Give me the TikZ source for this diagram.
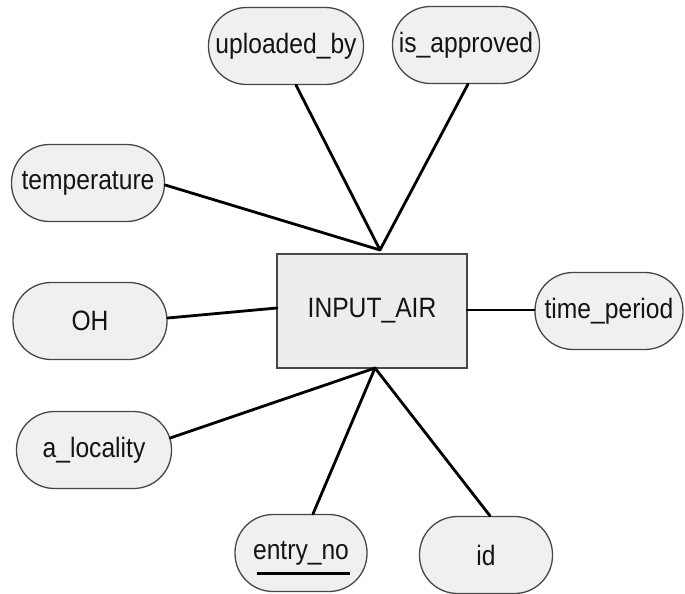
\documentclass[tikz,border=0pt]{standalone}
\usepackage{fontspec}
\setmainfont[FakeStretch=0.88]{Liberation Sans}
\begin{document}
\begin{tikzpicture}[x=1pt,y=-1pt,
  attr/.style={draw=black!72, line width=1.3pt, fill=black!6,
    minimum height=77pt, rounded corners=38pt, inner sep=0pt,
    text=black!92, font=\fontsize{28}{30}\selectfont},
  entity/.style={draw=black!72, line width=1.5pt, fill=black!7,
    inner sep=0pt, text=black!92, font=\fontsize{28}{30}\selectfont},
  link/.style={line width=2.8pt, black, line cap=round}]
\useasboundingbox (0,0) rectangle (685,594);

% entity
\node[entity, minimum width=190pt, minimum height=114pt] (air) at (372,311) {INPUT\_AIR};

% attributes
\node[attr, minimum width=155pt] (up)  at (286,46)  {uploaded\_by};
\node[attr, minimum width=147pt] (ia)  at (466,45)  {is\_approved};
\node[attr, minimum width=153pt] (tp)  at (88,183)  {temperature};
\node[attr, minimum width=154pt] (oh)  at (90,321)  {OH};
\node[attr, minimum width=148pt] (tpd) at (609,311) {time\_period};
\node[attr, minimum width=155pt] (al)  at (94,450)  {a\_locality};
\node[attr, minimum width=132pt] (en)  at (301,553) {entry\_no};
\node[attr, minimum width=133pt] (id)  at (486,555) {id};

% key underline
\coordinate (ku1) at (257,573);
\coordinate (ku2) at (350,573);
\draw[line width=3pt, black] (ku1) -- (ku2);

% meeting points on the entity
\coordinate (jt) at (380,250);
\coordinate (jb) at (375,368);
\coordinate (jw) at (277,308);
\coordinate (je) at (467,310);

% connectors
\draw[link] ([xshift=10pt]up.south) -- (jt);
\draw[link] ([xshift=2pt]ia.south) -- (jt);
\draw[link] ([yshift=-2pt]tp.east) -- (jt);
\draw[link] ([yshift=3pt]oh.east) -- (jw);
\draw[link] ([yshift=1pt]tpd.west) -- (je);
\draw[link] ([xshift=-2pt,yshift=12pt]al.east) -- (jb);
\draw[link] ([xshift=12pt]en.north) -- (jb);
\draw[link] ([xshift=4pt]id.north) -- (jb);
\end{tikzpicture}
\end{document}
